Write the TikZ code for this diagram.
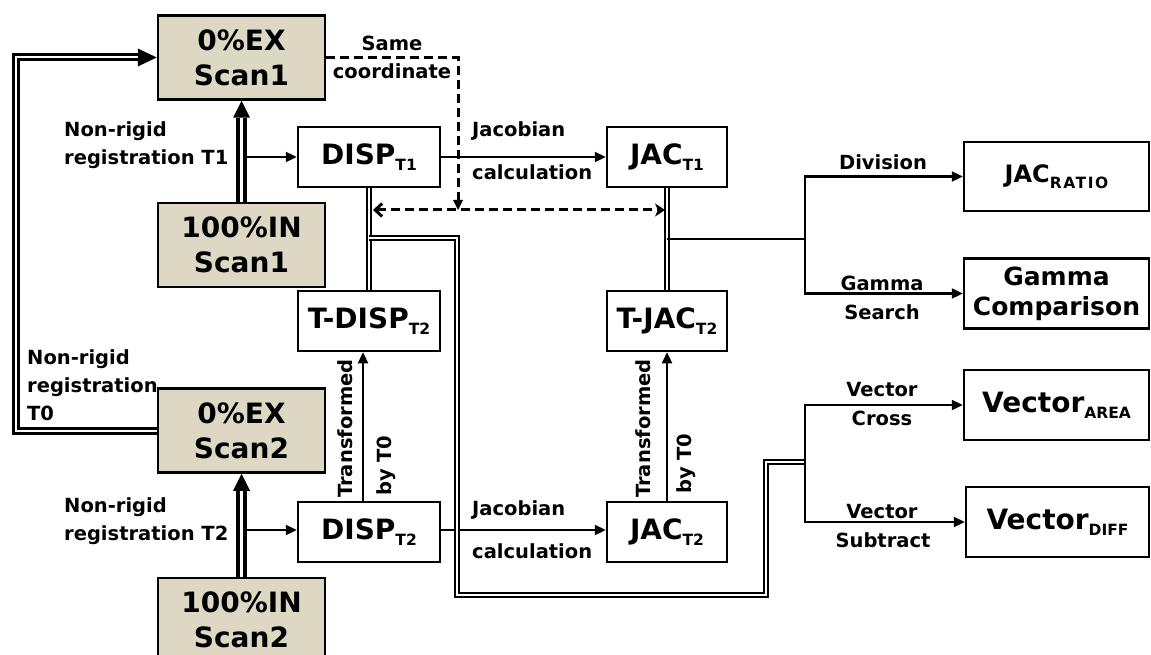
\documentclass[tikz,border=0pt]{standalone}
\usepackage{fontspec}
\setmainfont{DejaVu Sans}
\usetikzlibrary{arrows.meta}
\definecolor{scanfill}{RGB}{221,216,196}
\newcommand{\mysub}[1]{\raisebox{-6pt}{\fontsize{15.5}{15.5}\selectfont #1}}
\begin{document}
\begin{tikzpicture}[x=1pt,y=-1pt,
  box/.style={draw, line width=2.5pt, inner sep=0pt, align=center, minimum width=142pt, minimum height=60pt, font=\bfseries\fontsize{28}{35}\selectfont},
  scan/.style={box, fill=scanfill, minimum width=167pt, minimum height=84pt},
  jbox/.style={box, minimum width=120pt},
  rbox/.style={box, minimum width=185pt, minimum height=70pt},
  lbl/.style={inner sep=0pt, font=\bfseries\fontsize{19.5}{28}\selectfont},
  arr/.style={line width=2.3pt, -{Triangle[length=11pt,width=10pt]}},
  thn/.style={line width=2.3pt},
  bigdbl/.style={double, line width=4pt, double distance=2.5pt},
  loopdbl/.style={double, line width=3pt, double distance=2pt},
  thindbl/.style={double, line width=2pt, double distance=1.5pt},
  dsh/.style={line width=3pt, dash pattern=on 9pt off 5pt}
]
\useasboundingbox (0,0) rectangle (1151,655);
% scan boxes
\node[scan] (ex1) at (241.5,57.5) {0\%EX\\Scan1};
\node[scan] (in1) at (241.5,245) {100\%IN\\Scan1};
\node[scan] (ex2) at (241.5,430.5) {0\%EX\\Scan2};
\node[scan] (in2) at (241.5,620) {100\%IN\\Scan2};
% process boxes
\node[box] (d1) at (369,157) {DISP\mysub{T1}};
\node[jbox] (j1) at (667,157) {JAC\mysub{T1}};
\node[box] (td) at (369,321) {T-DISP\mysub{T2}};
\node[jbox] (tj) at (667,321) {T-JAC\mysub{T2}};
\node[box] (d2) at (369,532) {DISP\mysub{T2}};
\node[jbox] (j2) at (667,532) {JAC\mysub{T2}};
% result boxes
\node[rbox, minimum height=69pt] (ratio) at (1056.5,176.5) {\fontsize{24}{28}\selectfont JAC\raisebox{-6pt}{\fontsize{15.5}{15.5}\selectfont\addfontfeature{LetterSpace=10}RATIO}};
\node[rbox, font=\bfseries\fontsize{25}{30}\selectfont] (gamma) at (1056.5,293.5) {Gamma\\Comparison};
\node[rbox] (varea) at (1056.5,405) {Vector\mysub{AREA}};
\node[rbox, minimum width=183pt] (vdiff) at (1057.5,522) {Vector\mysub{DIFF}};

% big double arrows between scans
\draw[bigdbl] (in1.north) -- ([yshift=-17pt]ex1.south);
\fill (ex1.south) -- ++(-8.5,17) -- ++(17,0) -- cycle;
\draw[bigdbl] (in2.north) -- ([yshift=-17pt]ex2.south);
\fill (ex2.south) -- ++(-8.5,17) -- ++(17,0) -- cycle;

% loop from Scan2 to Scan1
\draw[loopdbl] (ex2.west) -- (16,430.5) -- (16,57.5) -- ([xshift=-19pt]ex1.west);
\fill (ex1.west) -- ++(-19,-9) -- ++(0,18) -- cycle;

% registration arrows
\coordinate (b1) at (247,157);
\coordinate (b2) at (247,530);
\draw[arr] (b1) -- (d1.west);
\draw[arr] (b2) -- (d2.west |- b2);

% jacobian arrows
\draw[arr] (d1.east) -- (j1.west);
\draw[arr] (d2.east |- b2) -- (j2.west |- b2);

% transformed arrows
\draw[arr] ([xshift=-6pt]d2.north) -- ([xshift=-6pt]td.south);
\draw[arr] (j2.north) -- (tj.south);

% double links
\draw[thindbl] (d1.south) -- (td.north);
\draw[thindbl] (j1.south) -- (tj.north);

% long route
\coordinate (r0) at (369,238);
\coordinate (br2) at (805,462);
\draw[thindbl] (r0) -- (457,238) -- (457,595) -- (766,595) -- (766,462) -- (br2);
\draw[arr] (br2) |- (varea.west);
\draw[arr] (br2) |- (vdiff.west);

% jac branch
\coordinate (r1) at (667,239);
\coordinate (br1) at (805,239);
\draw[thn] (r1) -- (br1);
\draw[arr] (br1) |- (ratio.west);
\draw[arr] (br1) |- (gamma.west);

% dashed same coordinate
\coordinate (dc) at (458,210);
\coordinate (dl) at (373,210);
\coordinate (dr) at (665,210);
\draw[dsh] (ex1.east) -- (458,57.5) -- ([yshift=9pt]dc);
\fill (dc) -- ++(-5,-10) -- ++(10,0) -- cycle;
\draw[dsh, {Straight Barb[length=7pt,width=13pt,line width=3pt]}-{Stealth[length=10pt,width=13pt,inset=3pt]}] (dl) -- (dr);

% labels
\node[lbl] (lsame) at (392,43) {Same};
\node[lbl] (lcoord) at (392,71) {coordinate};
\node[lbl, align=left, anchor=north west] (lr1) at (64,121) {Non-rigid\\registration T1};
\node[lbl, align=left, anchor=north west] (lr0) at (27,349) {Non-rigid\\registration\\T0};
\node[lbl, align=left, anchor=north west] (lr2) at (64,497) {Non-rigid\\registration T2};
\node[lbl, anchor=west] (lj1a) at (472,131) {Jacobian};
\node[lbl, anchor=west] (lj1b) at (472,172) {calculation};
\node[lbl, anchor=west] (lj2a) at (472,510) {Jacobian};
\node[lbl, anchor=west] (lj2b) at (472,551) {calculation};
\node[lbl, rotate=90, anchor=west] (lt1a) at (345,498) {Transformed};
\node[lbl, rotate=90, anchor=west] (lt1b) at (386,496) {by T0};
\node[lbl, rotate=90, anchor=west] (lt2a) at (643,498) {Transformed};
\node[lbl, rotate=90, anchor=west] (lt2b) at (686,494) {by T0};
\node[lbl] (ldiv) at (883,162) {Division};
\node[lbl] (lgam) at (882,283) {Gamma};
\node[lbl] (lsea) at (882,312) {Search};
\node[lbl] (lvc1) at (882,390) {Vector};
\node[lbl] (lcro) at (882,418) {Cross};
\node[lbl] (lvc2) at (882,512) {Vector};
\node[lbl] (lsub) at (883,540) {Subtract};
\end{tikzpicture}
\end{document}
